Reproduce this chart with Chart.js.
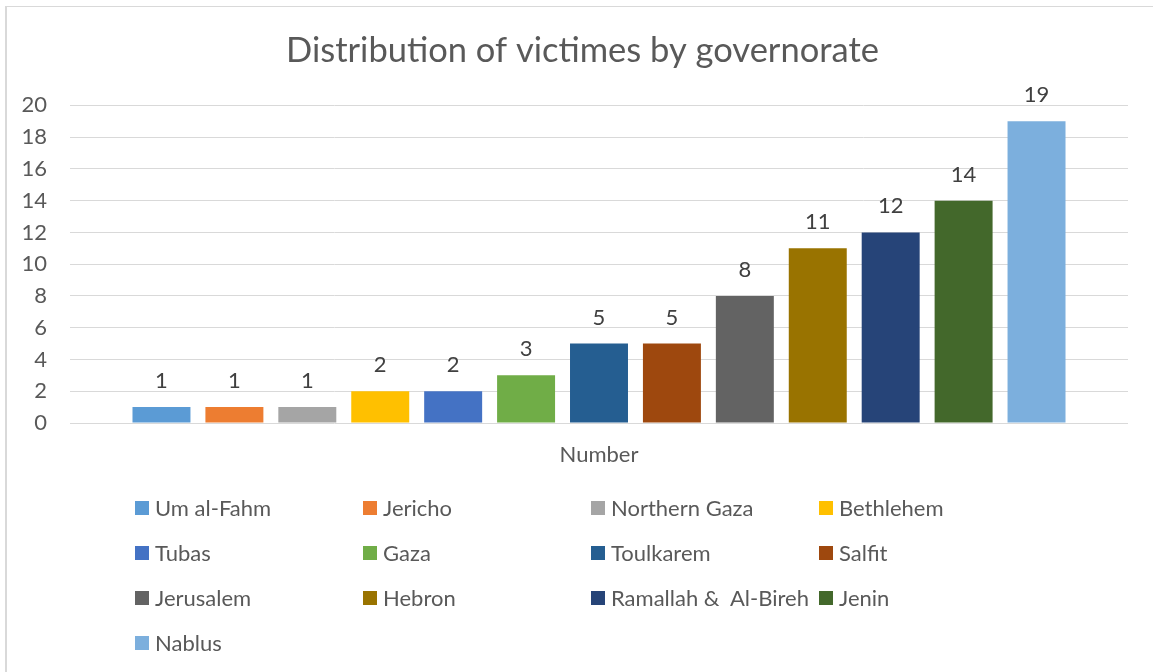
<!DOCTYPE html>
<html>
<head>
<meta charset="utf-8">
<title>Distribution of victimes by governorate</title>
<script src="https://cdn.jsdelivr.net/npm/chart.js@4.4.1/dist/chart.umd.min.js"></script>
<style>
  html, body { margin: 0; padding: 0; background: #fff; overflow: hidden; }
  #wrap { position: relative; width: 1153px; height: 672px; }
  #frame {
    position: absolute; left: 5px; top: 6px; width: 1300px; height: 800px;
    border-left: 2px solid #d9d9d9; border-top: 1px solid #d9d9d9;
  }
  #legend {
    position: absolute; left: 135px; top: 485px;
    display: grid; grid-template-columns: repeat(4, 228px); grid-auto-rows: 45px;
    font-family: Lato, sans-serif; font-size: 22px; color: #595959;
  }
  .item { display: flex; align-items: center; white-space: pre; }
  .box { width: 14px; height: 14px; margin-right: 6px; flex: none; }
</style>
</head>
<body>
<div id="wrap">
  <div id="frame"></div>
  <canvas id="victimsChart" width="1153" height="672"></canvas>
  <div id="legend"></div>
</div>
<script>
// Dati del grafico
const governorates = ['Um al-Fahm', 'Jericho', 'Northern Gaza', 'Bethlehem', 'Tubas', 'Gaza',
    'Toulkarem', 'Salfit', 'Jerusalem', 'Hebron', 'Ramallah &  Al-Bireh', 'Jenin', 'Nablus'];
const victims = [1, 1, 1, 2, 2, 3, 5, 5, 8, 11, 12, 14, 19];
const barColors = ['#5b9bd5', '#ed7d31', '#a5a5a5', '#ffc000', '#4472c4', '#70ad47',
    '#255e91', '#9e480e', '#636363', '#997300', '#264478', '#43682b', '#7cafdd'];
const categories = ['Number'];
const yTicks = [0, 2, 4, 6, 8, 10, 12, 14, 16, 18, 20];

Chart.defaults.font.family = 'Lato, sans-serif';
Chart.defaults.color = '#595959';

// Etichette dei valori sopra le barre
const valueLabels = {
    id: 'valueLabels',
    afterLayout(chart) {
        // sposta il titolo per centrarlo come nell'originale
        if (chart.titleBlock) chart.titleBlock.left = 37;
    },
    afterDatasetsDraw(chart) {
        const ctx = chart.ctx;
        ctx.save();
        ctx.font = '22px Lato, sans-serif';
        ctx.fillStyle = '#404040';
        ctx.textAlign = 'center';
        ctx.textBaseline = 'alphabetic';
        chart.data.datasets.forEach((ds, i) => {
            chart.getDatasetMeta(i).data.forEach((bar, j) => {
                ctx.fillText(ds.data[j], bar.x, bar.y - 19);
            });
        });
        ctx.restore();
    }
};

const chart = new Chart(document.getElementById('victimsChart'), {
    type: 'bar',
    data: {
        labels: categories,
        datasets: governorates.map((name, i) => ({
            label: name,
            data: [victims[i]],
            backgroundColor: barColors[i],
            borderWidth: 0,
            categoryPercentage: 0.896,
            barPercentage: 0.795
        }))
    },
    options: {
        responsive: false,
        animation: false,
        layout: { padding: { left: 0, right: 25, top: 0, bottom: 0 } },
        plugins: {
            legend: { display: false },
            tooltip: { enabled: false },
            title: {
                display: true,
                text: 'Distribution of victimes by governorate',
                color: '#595959',
                font: { size: 34.5, weight: 'normal' },
                padding: { top: 30, bottom: 34 }
            }
        },
        scales: {
            x: {
                grid: { display: false },
                border: { display: false },
                ticks: { padding: 11, font: { size: 22 }, color: '#595959' },
                afterFit(scale) { scale.height = 249; }
            },
            y: {
                min: 0,
                max: 20,
                afterBuildTicks(scale) { scale.ticks = yTicks.map(v => ({ value: v })); },
                grid: { color: '#d9d9d9', lineWidth: 1, drawTicks: false },
                border: { display: false },
                ticks: { padding: 23, font: { size: 22 }, color: '#595959' },
                afterFit(scale) { scale.width = 70; }
            }
        }
    },
    plugins: [valueLabels]
});

// Legenda in colonne, come nell'originale
const legend = document.getElementById('legend');
chart.data.datasets.forEach(ds => {
    const item = document.createElement('div');
    item.className = 'item';
    const box = document.createElement('span');
    box.className = 'box';
    box.style.background = ds.backgroundColor;
    const text = document.createElement('span');
    text.textContent = ds.label;
    item.appendChild(box);
    item.appendChild(text);
    legend.appendChild(item);
});
</script>
</body>
</html>
